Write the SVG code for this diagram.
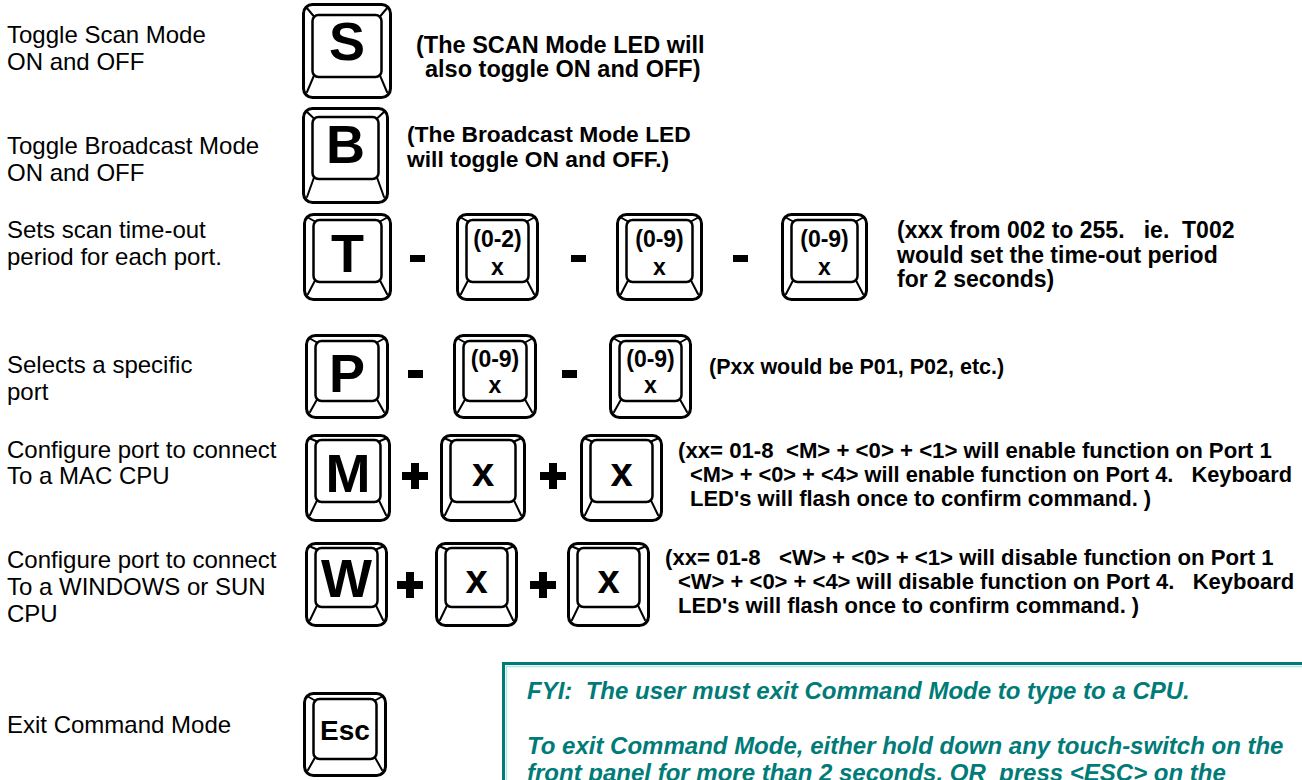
<svg xmlns="http://www.w3.org/2000/svg" width="1302" height="780" viewBox="0 0 1302 780">
<style>
.bg{fill:#fff}
.lbl{font-family:"Liberation Sans",Arial,sans-serif;font-size:24px;fill:#000}
.note{font-family:"Liberation Sans",Arial,sans-serif;font-weight:bold;font-size:23px;fill:#000}
.ko{fill:#fff;stroke:#000;stroke-width:3}
.ki{fill:none;stroke:#000;stroke-width:2.5}
.kd{fill:none;stroke:#000;stroke-width:2;stroke-linecap:round}
.kbig{font-family:"Liberation Sans",Arial,sans-serif;font-weight:bold;font-size:54px;fill:#000;text-anchor:middle}
.ksm{font-family:"Liberation Sans",Arial,sans-serif;font-weight:bold;font-size:23px;fill:#000;text-anchor:middle}
.kx{font-family:"Liberation Sans",Arial,sans-serif;font-weight:bold;font-size:40px;fill:#000;text-anchor:middle}
.op{fill:#000}
.fyi{font-family:"Liberation Sans",Arial,sans-serif;font-weight:bold;font-style:italic;font-size:24px;fill:#007b78}
</style>
<rect class="bg" x="0" y="0" width="1302" height="780"/>

<!-- left labels -->
<g id="labels">
<text class="lbl" x="7" y="43">Toggle Scan Mode</text>
<text class="lbl" x="7" y="70">ON and OFF</text>
<text class="lbl" x="7" y="154">Toggle Broadcast Mode</text>
<text class="lbl" x="7" y="181">ON and OFF</text>
<text class="lbl" x="7" y="238">Sets scan time-out</text>
<text class="lbl" x="7" y="265">period for each port.</text>
<text class="lbl" x="7" y="373">Selects a specific</text>
<text class="lbl" x="7" y="400">port</text>
<text class="lbl" x="7" y="458">Configure port to connect</text>
<text class="lbl" x="7" y="484">To a MAC CPU</text>
<text class="lbl" x="7" y="568">Configure port to connect</text>
<text class="lbl" x="7" y="595">To a WINDOWS or SUN</text>
<text class="lbl" x="7" y="622">CPU</text>
<text class="lbl" x="7" y="733">Exit Command Mode</text>
</g>

<!-- keys -->
<g id="key-s" transform="translate(302,3)">
<rect class="ko" x="1.5" y="1.5" width="87" height="93" rx="9"/>
<rect class="ki" x="10.5" y="12" width="69" height="62" rx="6"/>
<path class="kd" d="M4 4L12 13.5M86 4L78 13.5M12 72.5L5 89M78 72.5L85 89"/>
<text class="kbig" x="45" y="57">S</text>
</g>
<g id="key-b" transform="translate(302,107)">
<rect class="ko" x="1.5" y="1.5" width="84" height="94" rx="9"/>
<rect class="ki" x="10.5" y="10" width="66" height="62" rx="6"/>
<path class="kd" d="M4 4L12 11.5M83 4L75 11.5M12 70.5L5 90M75 70.5L82 90"/>
<text class="kbig" x="43.5" y="56">B</text>
</g>
<g id="key-t" transform="translate(303,213)">
<rect class="ko" x="1.5" y="1.5" width="86" height="85" rx="9"/>
<rect class="ki" x="10.5" y="7" width="68" height="62" rx="6"/>
<path class="kd" d="M4 4L12 8.5M85 4L77 8.5M12 67.5L5 81M77 67.5L84 81"/>
<text class="kbig" x="44.5" y="59">T</text>
</g>
<g id="key-t1" transform="translate(456,213)">
<rect class="ko" x="1.5" y="1.5" width="80" height="85" rx="9"/>
<rect class="ki" x="10.5" y="7" width="62" height="62" rx="6"/>
<path class="kd" d="M4 4L12 8.5M79 4L71 8.5M12 67.5L5 81M71 67.5L78 81"/>
<text class="ksm" x="41.5" y="34">(0-2)</text>
<text class="ksm" x="41.5" y="62">x</text>
</g>
<g id="key-t2" transform="translate(616,213)">
<rect class="ko" x="1.5" y="1.5" width="84" height="85" rx="9"/>
<rect class="ki" x="10.5" y="7" width="66" height="62" rx="6"/>
<path class="kd" d="M4 4L12 8.5M83 4L75 8.5M12 67.5L5 81M75 67.5L82 81"/>
<text class="ksm" x="43.5" y="34">(0-9)</text>
<text class="ksm" x="43.5" y="62">x</text>
</g>
<g id="key-t3" transform="translate(781,213)">
<rect class="ko" x="1.5" y="1.5" width="84" height="85" rx="9"/>
<rect class="ki" x="10.5" y="7" width="66" height="62" rx="6"/>
<path class="kd" d="M4 4L12 8.5M83 4L75 8.5M12 67.5L5 81M75 67.5L82 81"/>
<text class="ksm" x="43.5" y="34">(0-9)</text>
<text class="ksm" x="43.5" y="62">x</text>
</g>
<g id="key-p" transform="translate(305,334)">
<rect class="ko" x="1.5" y="1.5" width="81" height="82" rx="9"/>
<rect class="ki" x="10.5" y="7" width="63" height="60" rx="6"/>
<path class="kd" d="M4 4L12 8.5M80 4L72 8.5M12 65.5L5 78M72 65.5L79 78"/>
<text class="kbig" x="42" y="58">P</text>
</g>
<g id="key-p1" transform="translate(453,334)">
<rect class="ko" x="1.5" y="1.5" width="81" height="82" rx="9"/>
<rect class="ki" x="10.5" y="7" width="63" height="60" rx="6"/>
<path class="kd" d="M4 4L12 8.5M80 4L72 8.5M12 65.5L5 78M72 65.5L79 78"/>
<text class="ksm" x="42" y="33">(0-9)</text>
<text class="ksm" x="42" y="59">x</text>
</g>
<g id="key-p2" transform="translate(609,334)">
<rect class="ko" x="1.5" y="1.5" width="80" height="82" rx="9"/>
<rect class="ki" x="10.5" y="7" width="62" height="60" rx="6"/>
<path class="kd" d="M4 4L12 8.5M79 4L71 8.5M12 65.5L5 78M71 65.5L78 78"/>
<text class="ksm" x="41.5" y="33">(0-9)</text>
<text class="ksm" x="41.5" y="59">x</text>
</g>
<g id="key-m" transform="translate(305,434)">
<rect class="ko" x="1.5" y="1.5" width="83" height="85" rx="9"/>
<rect class="ki" x="10.5" y="6" width="65" height="62" rx="6"/>
<path class="kd" d="M4 4L12 7.5M82 4L74 7.5M12 66.5L5 81M74 66.5L81 81"/>
<text class="kbig" x="43" y="58">M</text>
</g>
<g id="key-m1" transform="translate(440,434)">
<rect class="ko" x="1.5" y="1.5" width="83" height="85" rx="9"/>
<rect class="ki" x="10.5" y="6" width="65" height="62" rx="6"/>
<path class="kd" d="M4 4L12 7.5M82 4L74 7.5M12 66.5L5 81M74 66.5L81 81"/>
<text class="kx" x="43" y="52">x</text>
</g>
<g id="key-m2" transform="translate(580,434)">
<rect class="ko" x="1.5" y="1.5" width="80" height="85" rx="9"/>
<rect class="ki" x="10.5" y="6" width="62" height="62" rx="6"/>
<path class="kd" d="M4 4L12 7.5M79 4L71 7.5M12 66.5L5 81M71 66.5L78 81"/>
<text class="kx" x="41.5" y="52">x</text>
</g>
<g id="key-w" transform="translate(305,542)">
<rect class="ko" x="1.5" y="1.5" width="80" height="82" rx="9"/>
<rect class="ki" x="10.5" y="6" width="62" height="59" rx="6"/>
<path class="kd" d="M4 4L12 7.5M79 4L71 7.5M12 63.5L5 78M71 63.5L78 78"/>
<text class="kbig" x="41.5" y="55">W</text>
</g>
<g id="key-w1" transform="translate(435,542)">
<rect class="ko" x="1.5" y="1.5" width="80" height="82" rx="9"/>
<rect class="ki" x="10.5" y="6" width="62" height="59" rx="6"/>
<path class="kd" d="M4 4L12 7.5M79 4L71 7.5M12 63.5L5 78M71 63.5L78 78"/>
<text class="kx" x="41.5" y="51">x</text>
</g>
<g id="key-w2" transform="translate(567,542)">
<rect class="ko" x="1.5" y="1.5" width="80" height="82" rx="9"/>
<rect class="ki" x="10.5" y="6" width="62" height="59" rx="6"/>
<path class="kd" d="M4 4L12 7.5M79 4L71 7.5M12 63.5L5 78M71 63.5L78 78"/>
<text class="kx" x="41.5" y="51">x</text>
</g>
<g id="key-esc" transform="translate(303,692)">
<rect class="ko" x="1.5" y="1.5" width="81" height="82" rx="9"/>
<rect class="ki" x="10.5" y="7" width="63" height="60" rx="6"/>
<path class="kd" d="M4 4L12 8.5M80 4L72 8.5M12 65.5L5 78M72 65.5L79 78"/>
<text class="kbig" x="42" y="48" style="font-size:28px">Esc</text>
</g>

<!-- operators between keys -->
<g id="connectors">
<rect class="op" x="410" y="255" width="15" height="7"/>
<rect class="op" x="571" y="255" width="15" height="7"/>
<rect class="op" x="733" y="255" width="15" height="7"/>
<rect class="op" x="408" y="370" width="15" height="8"/>
<rect class="op" x="562" y="370" width="15" height="8"/>
<path class="op" d="M402 472h26v8h-26zM411 463h8v26h-8z"/>
<path class="op" d="M540 472h26v8h-26zM549 463h8v26h-8z"/>
<path class="op" d="M397 581h26v8h-26zM406 572h8v26h-8z"/>
<path class="op" d="M530 581h26v8h-26zM539 572h8v26h-8z"/>
</g>

<!-- notes -->
<g id="note-s">
<text class="note" x="416" y="53" style="font-size:23.5px">(The SCAN Mode LED will</text>
<text class="note" x="425" y="77" style="font-size:23.5px">also toggle ON and OFF)</text>
</g>
<g id="note-b">
<text class="note" x="407" y="142" style="font-size:22.8px">(The Broadcast Mode LED</text>
<text class="note" x="407" y="167" style="font-size:22.8px">will toggle ON and OFF.)</text>
</g>
<g id="note-t">
<text class="note" x="897" y="238" xml:space="preserve">(xxx from 002 to 255.   ie.  T002</text>
<text class="note" x="897" y="263">would set the time-out period</text>
<text class="note" x="897" y="287">for 2 seconds)</text>
</g>
<g id="note-p">
<text class="note" x="709" y="374" style="font-size:21.5px">(Pxx would be P01, P02, etc.)</text>
</g>
<g id="note-m">
<text class="note" x="678" y="458" style="font-size:22.2px" xml:space="preserve">(xx= 01-8  &lt;M&gt; + &lt;0&gt; + &lt;1&gt; will enable function on Port 1</text>
<text class="note" x="690" y="482" style="font-size:21.8px" xml:space="preserve">&lt;M&gt; + &lt;0&gt; + &lt;4&gt; will enable function on Port 4.   Keyboard</text>
<text class="note" x="690" y="506" style="font-size:22px">LED's will flash once to confirm command. )</text>
</g>
<g id="note-w">
<text class="note" x="665" y="565" style="font-size:22.2px" xml:space="preserve">(xx= 01-8   &lt;W&gt; + &lt;0&gt; + &lt;1&gt; will disable function on Port 1</text>
<text class="note" x="678" y="589" style="font-size:22px" xml:space="preserve">&lt;W&gt; + &lt;0&gt; + &lt;4&gt; will disable function on Port 4.   Keyboard</text>
<text class="note" x="678" y="613" style="font-size:22px">LED's will flash once to confirm command. )</text>
</g>

<!-- FYI box -->
<g id="fyi-box">
<rect x="503.5" y="663.5" width="820" height="140" fill="#fff" stroke="#007b78" stroke-width="3"/>
<rect x="506.5" y="666.5" width="820" height="140" fill="none" stroke="#b6e6e4" stroke-width="1.5"/>
<text class="fyi" x="527" y="699" xml:space="preserve">FYI:  The user must exit Command Mode to type to a CPU.</text>
<text class="fyi" x="527" y="754">To exit Command Mode, either hold down any touch-switch on the</text>
<text class="fyi" x="527" y="781" xml:space="preserve">front panel for more than 2 seconds, OR  press &lt;ESC&gt; on the</text>
</g>
</svg>
